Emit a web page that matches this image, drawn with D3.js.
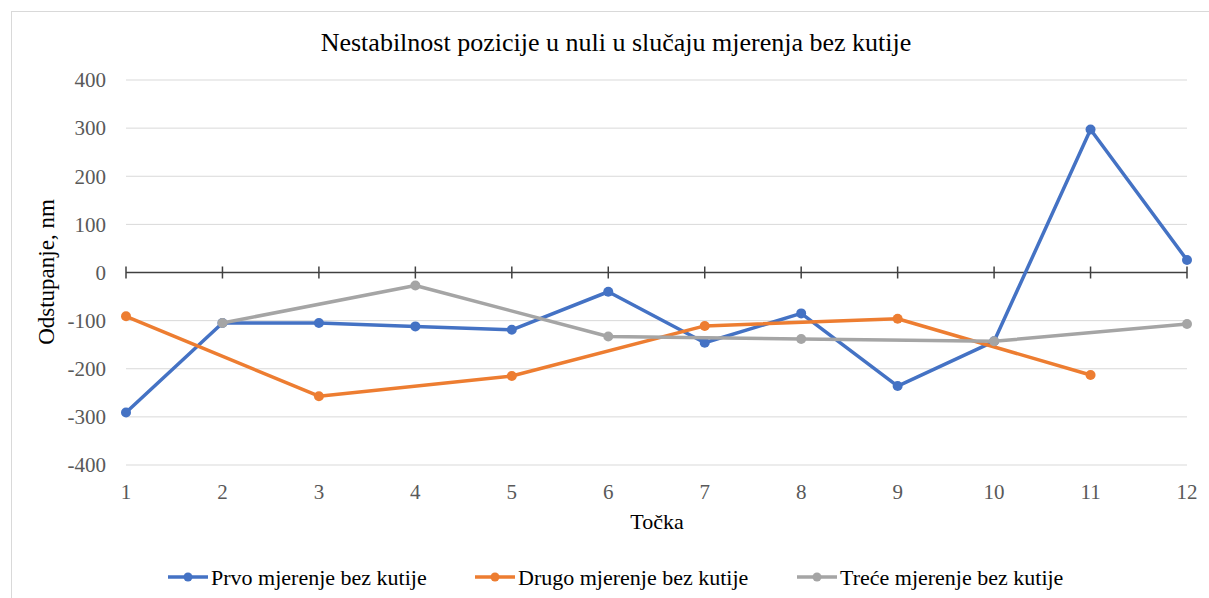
<!DOCTYPE html>
<html>
<head>
<meta charset="utf-8">
<script src="https://cdn.jsdelivr.net/npm/d3@7"></script>
<style>
  html, body { margin: 0; padding: 0; background: #fff; }
  svg { display: block; }
  text { font-family: "Liberation Serif", "Times New Roman", serif; }
</style>
</head>
<body>
<svg id="chart" width="1209" height="598"></svg>
<script>
// Measurement points and the three zero-position runs (nm); null = no reading
const points = [1, 2, 3, 4, 5, 6, 7, 8, 9, 10, 11, 12];
const prvo   = [-291, -105, -105, -112, -119, -40, -146, -85, -236, -143, 297, 26];
const drugo  = [-91, null, -257, null, -215, null, -111, null, -96, null, -213, null];
const trece  = [null, -105, null, -27, null, -133, null, -138, null, -143, null, -107];
const yTicks = [-400, -300, -200, -100, 0, 100, 200, 300, 400];

const seriesNames  = ["Prvo mjerenje bez kutije", "Drugo mjerenje bez kutije", "Treće mjerenje bez kutije"];
const seriesColors = ["#4472C4", "#ED7D31", "#A5A5A5"];
const seriesValues = [prvo, drugo, trece];

const svg = d3.select("#chart");

// chart frame
svg.append("rect")
  .attr("x", 11.5).attr("y", 11.5)
  .attr("width", 1220).attr("height", 600)
  .attr("fill", "#fff").attr("stroke", "#d9d9d9").attr("stroke-width", 1);

const x = d3.scalePoint().domain(points).range([126, 1187]);
const y = d3.scaleLinear().domain([-400, 400]).range([465, 80]);

// gridlines
svg.append("g")
  .selectAll("line")
  .data(yTicks.filter(v => v !== 0))
  .join("line")
  .attr("x1", 126).attr("x2", 1187)
  .attr("y1", d => y(d)).attr("y2", d => y(d))
  .attr("stroke", "#d9d9d9").attr("stroke-width", 1);

// y tick labels
svg.append("g")
  .selectAll("text")
  .data(yTicks)
  .join("text")
  .attr("x", 106).attr("y", d => y(d))
  .attr("dy", "0.35em")
  .attr("text-anchor", "end")
  .attr("font-size", 21)
  .attr("fill", "#595959")
  .text(d => d);

// category axis at zero, with cross ticks
const axisG = svg.append("g").attr("transform", `translate(0,${y(0)})`);
axisG.call(d3.axisBottom(x).tickSize(0).tickFormat(""))
  .call(g => g.select(".domain").attr("stroke", "#404040").attr("stroke-width", 1.5).attr("d", `M${x(1)},0H${x(12)}`));
axisG.selectAll(".tickmark")
  .data(points)
  .join("line")
  .attr("x1", d => x(d)).attr("x2", d => x(d))
  .attr("y1", -6).attr("y2", 6)
  .attr("stroke", "#404040").attr("stroke-width", 1.5);

// x tick labels at the bottom
svg.append("g")
  .selectAll("text")
  .data(points)
  .join("text")
  .attr("x", d => x(d)).attr("y", 492)
  .attr("dy", "0.35em")
  .attr("text-anchor", "middle")
  .attr("font-size", 21)
  .attr("fill", "#595959")
  .text(d => d);

// series: lines bridge missing readings
seriesValues.forEach((vals, i) => {
  const pts = points.map((p, k) => ({ p, v: vals[k] })).filter(d => d.v !== null);
  const line = d3.line().x(d => x(d.p)).y(d => y(d.v));
  const g = svg.append("g");
  g.append("path")
    .datum(pts)
    .attr("d", line)
    .attr("fill", "none")
    .attr("stroke", seriesColors[i])
    .attr("stroke-width", 3.5)
    .attr("stroke-linejoin", "round");
  g.selectAll("circle")
    .data(pts)
    .join("circle")
    .attr("cx", d => x(d.p)).attr("cy", d => y(d.v))
    .attr("r", 5)
    .attr("fill", seriesColors[i]);
});

// title
svg.append("text")
  .attr("x", 616).attr("y", 51)
  .attr("text-anchor", "middle")
  .attr("font-size", 26)
  .attr("fill", "#000")
  .text("Nestabilnost pozicije u nuli u slučaju mjerenja bez kutije");

// axis titles
svg.append("text")
  .attr("x", 657).attr("y", 529)
  .attr("text-anchor", "middle")
  .attr("font-size", 22)
  .attr("fill", "#000")
  .text("Točka");

svg.append("text")
  .attr("transform", "translate(54,272) rotate(-90)")
  .attr("text-anchor", "middle")
  .attr("font-size", 23)
  .attr("fill", "#000")
  .text("Odstupanje, nm");

// legend
const legendX = [168, 475, 797];
const legend = svg.append("g");
seriesNames.forEach((name, i) => {
  const lg = legend.append("g").attr("transform", `translate(${legendX[i]},577)`);
  lg.append("line").attr("x1", 0).attr("x2", 40).attr("y1", 0).attr("y2", 0)
    .attr("stroke", seriesColors[i]).attr("stroke-width", 3.5);
  lg.append("circle").attr("cx", 20).attr("cy", 0).attr("r", 4.5).attr("fill", seriesColors[i]);
  lg.append("text").attr("x", 43).attr("y", 0).attr("dy", "0.35em")
    .attr("font-size", 22).attr("fill", "#000").text(name);
});
</script>
</body>
</html>
